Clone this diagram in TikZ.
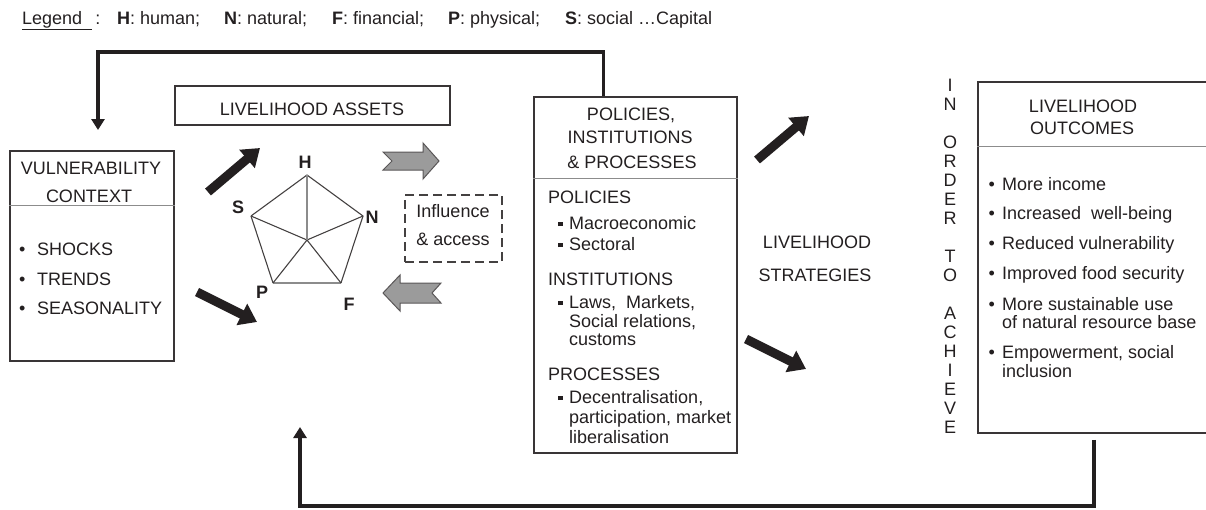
\documentclass[tikz,border=0pt]{standalone}
\usepackage{fontspec}
\setmainfont{Liberation Sans}
\usetikzlibrary{arrows.meta}

\definecolor{ink}{HTML}{231F20}
\definecolor{divgray}{HTML}{8C8C8C}
\definecolor{flowgray}{HTML}{9B9B9B}

\newcommand{\bul}[1]{\makebox[#1][l]{•}}
\newcommand{\sqb}{\makebox[11pt][l]{\rule[2.8pt]{4.5pt}{4.5pt}}}

\begin{document}
\begin{tikzpicture}[x=1pt, y=-1pt,
    txt/.style={font=\fontsize{18}{20}\selectfont, text=ink, inner sep=0pt},
    vlabel/.style={txt, font=\fontsize{18}{20}\selectfont\bfseries},
    box/.style={draw=ink!90, line width=1.5pt, inner sep=0pt},
    divline/.style={draw=divgray, line width=1.5pt},
    web/.style={draw=ink!85, line width=1.1pt},
    dashbox/.style={draw=ink!85, line width=1.2pt, dash pattern=on 9pt off 5pt},
    bigarrow/.style={draw=ink, line width=9pt, -{Triangle[length=17pt, width=23pt]}},
    flowarrow/.style={fill=flowgray, draw=ink!75, line width=1pt},
    fback/.style={draw=ink, line width=3.5pt, -{Triangle[length=11pt, width=13pt]}}]

    \useasboundingbox (0,0) rectangle (1206,509);
    \clip (0,0) rectangle (1206,509);

    % legend
    \node[txt, anchor=base west] (leg) at (22,24) {\underline{Legend\ \ }\,:};
    \node[txt, anchor=base west] (legH) at (117,24) {\textbf{H}: human;};
    \node[txt, anchor=base west] (legN) at (224,24) {\textbf{N}: natural;};
    \node[txt, anchor=base west] (legF) at (332,24) {\textbf{F}: financial;};
    \node[txt, anchor=base west] (legP) at (448,24) {\textbf{P}: physical;};
    \node[txt, anchor=base west] (legS) at (565,24) {\textbf{S}: social …Capital};

    % vulnerability context
    \node[box, minimum width=164pt, minimum height=210pt] (vul) at (92,256) {};
    \draw[divline] ([yshift=-55pt]vul.north west) -- ([yshift=-55pt]vul.north east);
    \node[txt, anchor=base] (vul1) at (91,174) {VULNERABILITY};
    \node[txt, anchor=base] (vul2) at (89,202) {CONTEXT};
    \node[txt, anchor=base west] (shk) at (19,255) {\bul{18pt}SHOCKS};
    \node[txt, anchor=base west] (trd) at (19,285) {\bul{18pt}TRENDS};
    \node[txt, anchor=base west] (ssn) at (19,314) {\bul{18pt}SEASONALITY};

    % livelihood assets
    \node[box, minimum width=275pt, minimum height=39pt] (ast) at (312.5,105.5) {};
    \node[txt, anchor=base] (astt) at (312,115) {LIVELIHOOD ASSETS};

    \coordinate (pH) at (307,175);
    \coordinate (pN) at (363,216);
    \coordinate (pF) at (341,283);
    \coordinate (pP) at (273,283);
    \coordinate (pS) at (251,216);
    \coordinate (pO) at (307,240);
    \draw[web] (pS) -- (pH) -- (pN) -- (pF);
    \draw[web] (pP) -- (pS);
    \draw[web, draw=divgray] (pP) -- (pF);
    \draw[web] (pO) -- (pN) (pO) -- (pF) (pO) -- (pP) (pO) -- (pS);
    \draw[web, draw=divgray] (pO) -- (pH);
    \node[vlabel] (lH) at (305,162) {H};
    \node[vlabel] (lN) at (372,217) {N};
    \node[vlabel] (lF) at (349,304) {F};
    \node[vlabel] (lP) at (262,292) {P};
    \node[vlabel] (lS) at (238,207) {S};

    % vulnerability -> assets
    \coordinate (a1s) at (208,192);
    \coordinate (a1e) at (260,148);
    \coordinate (a2s) at (197,292);
    \coordinate (a2e) at (257,322);
    \draw[bigarrow] (a1s) -- (a1e);
    \draw[bigarrow] (a2s) -- (a2e);

    % influence & access
    \draw[flowarrow] (383,152) -- (423,152) -- (423,143) -- (439,161) -- (423,179)
        -- (423,170) -- (383,170) -- (392,161) -- cycle;
    \draw[flowarrow] (441,283) -- (400,283) -- (400,275) -- (383,293) -- (400,311)
        -- (400,303) -- (441,303) -- (432,293) -- cycle;
    \node[dashbox, minimum width=97pt, minimum height=67pt] (infl) at (453.5,228.5) {};
    \node[txt, anchor=base] (infl1) at (453,217) {Influence};
    \node[txt, anchor=base] (infl2) at (453,245) {\& access};

    % policies, institutions & processes
    \node[box, minimum width=203pt, minimum height=356pt] (pip) at (635.5,275) {};
    \draw[divline] ([yshift=-82pt]pip.north west) -- ([yshift=-82pt]pip.north east);
    \node[txt, anchor=base] (pip1) at (631,120) {POLICIES,};
    \node[txt, anchor=base] (pip2) at (630,143) {INSTITUTIONS};
    \node[txt, anchor=base] (pip3) at (632,168) {\& PROCESSES};
    \node[txt, anchor=base west] (pol) at (548,203) {POLICIES};
    \node[txt, anchor=base west] (pol1) at (558,229) {\sqb Macroeconomic};
    \node[txt, anchor=base west] (pol2) at (558,250) {\sqb Sectoral};
    \node[txt, anchor=base west] (ins) at (548,285) {INSTITUTIONS};
    \node[txt, anchor=base west] (ins1) at (558,308) {\sqb Laws,\ \ Markets,};
    \node[txt, anchor=base west] (ins2) at (569,327) {Social relations,};
    \node[txt, anchor=base west] (ins3) at (569,345) {customs};
    \node[txt, anchor=base west] (prc) at (548,380) {PROCESSES};
    \node[txt, anchor=base west] (prc1) at (558,403) {\sqb Decentralisation,};
    \node[txt, anchor=base west] (prc2) at (569,423) {participation, market};
    \node[txt, anchor=base west] (prc3) at (569,443) {liberalisation};

    % livelihood strategies
    \coordinate (a3s) at (757,160);
    \coordinate (a3e) at (809,116);
    \coordinate (a4s) at (746,339);
    \coordinate (a4e) at (806,369);
    \draw[bigarrow] (a3s) -- (a3e);
    \draw[bigarrow] (a4s) -- (a4e);
    \node[txt, anchor=base] (str1) at (817,248) {LIVELIHOOD};
    \node[txt, anchor=base] (str2) at (815,281) {STRATEGIES};

    \node[txt, font=\fontsize{18}{19}\selectfont, align=center, anchor=north] (goal) at (950,79)
        {I\\N\\[19pt]O\\R\\D\\E\\R\\[19pt]T\\O\\[19pt]A\\C\\H\\I\\E\\V\\E};

    % livelihood outcomes
    \node[box, minimum width=240pt, minimum height=351pt] (oc) at (1098,257.5) {};
    \draw[divline] ([yshift=-65pt]oc.north west) -- ([yshift=-65pt]oc.north east);
    \node[txt, anchor=base] (oc1) at (1083,112) {LIVELIHOOD};
    \node[txt, anchor=base] (oc2) at (1082,134) {OUTCOMES};
    \node[txt, anchor=base west] (out1) at (988.5,190) {\bul{13.5pt}More income};
    \node[txt, anchor=base west] (out2) at (988.5,219) {\bul{13.5pt}Increased\ \ well-being};
    \node[txt, anchor=base west] (out3) at (988.5,249) {\bul{13.5pt}Reduced vulnerability};
    \node[txt, anchor=base west] (out4) at (988.5,279) {\bul{13.5pt}Improved food security};
    \node[txt, anchor=base west] (out5) at (988.5,310) {\bul{13.5pt}More sustainable use};
    \node[txt, anchor=base west] (out5b) at (1002,328) {of natural resource base};
    \node[txt, anchor=base west] (out6) at (988.5,358) {\bul{13.5pt}Empowerment, social};
    \node[txt, anchor=base west] (out6b) at (1002,377) {inclusion};

    % feedback loops
    \coordinate (fbtl) at (98,52);
    \coordinate (fbvul) at (98,130);
    \draw[fback] ([xshift=-32pt]pip.north) |- (fbtl) -- (fbvul);
    \coordinate (fbbl) at (300,506);
    \coordinate (fbast) at (300,427);
    \draw[fback] ([xshift=-4pt, yshift=-6pt]oc.south) |- (fbbl) -- (fbast);
\end{tikzpicture}
\end{document}
